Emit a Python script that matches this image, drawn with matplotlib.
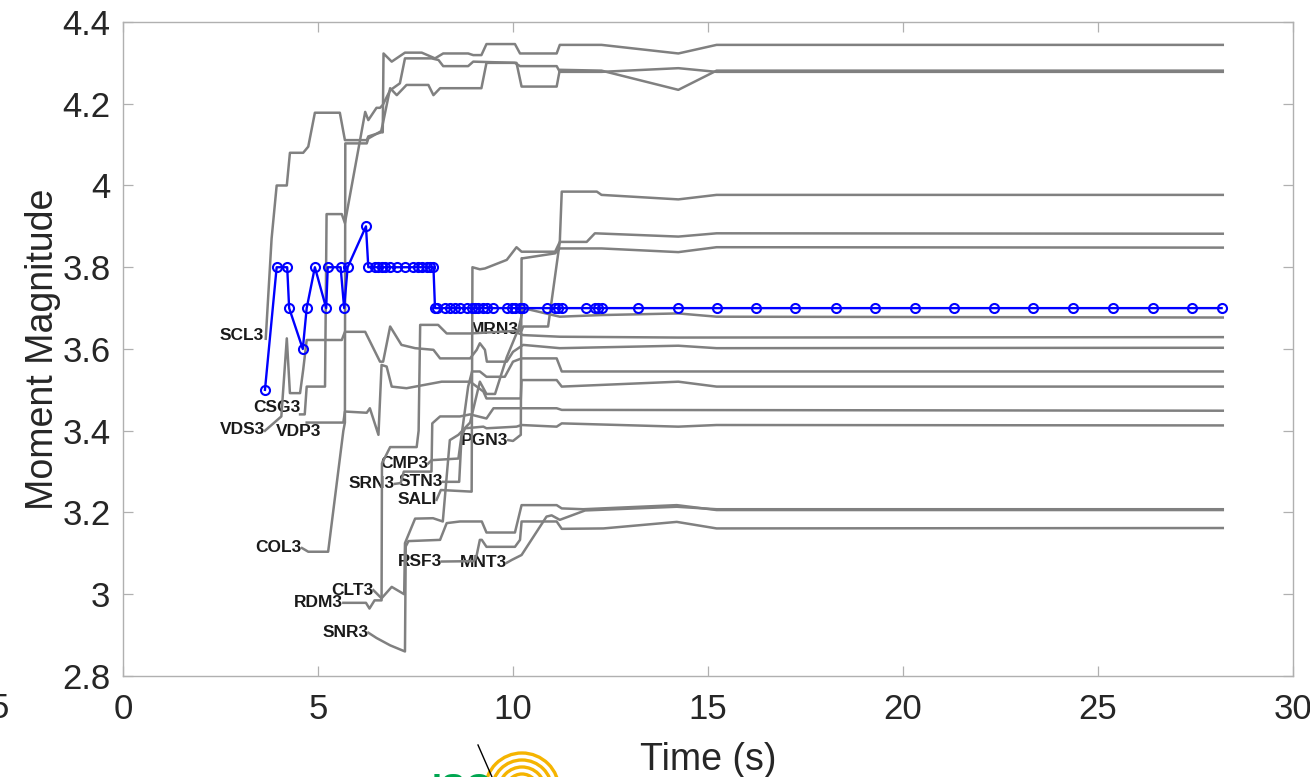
import matplotlib
matplotlib.use("Agg")
import matplotlib.pyplot as plt
from matplotlib.patches import Arc

plt.rcParams['font.family'] = ['Liberation Sans', 'DejaVu Sans']

# station estimates: (time s, magnitude) vertices per station
stations = ['SCL3', 'CSG3', 'COL3', 'MRN3', 'RDM3', 'SALI', 'PGN3', 'VDS3',
            'VDP3', 'CMP3', 'SRN3', 'STN3', 'CLT3', 'SNR3', 'MNT3', 'RSF3']

t_scl3 = [3.66, 3.81, 3.94, 4.20, 4.28, 4.62, 4.75, 4.92, 5.56, 5.69, 6.25, 6.29, 6.62, 6.66,
          6.68, 6.89, 7.23, 7.66, 8.00, 8.21, 8.85, 8.98, 9.19, 9.32, 10.05, 10.18, 11.12,
          11.20, 12.27, 14.24, 15.22, 28.2]
m_scl3 = [3.625, 3.87, 4.00, 4.00, 4.08, 4.08, 4.095, 4.178, 4.178, 4.111, 4.111, 4.12, 4.13,
          4.13, 4.323, 4.303, 4.325, 4.325, 4.311, 4.323, 4.323, 4.319, 4.319, 4.346, 4.346,
          4.323, 4.323, 4.344, 4.344, 4.323, 4.344, 4.344]

t_csg3 = [4.54, 4.66, 4.71, 5.18, 5.22, 5.61, 5.69, 6.21, 6.29, 6.50, 6.59, 6.66, 6.85, 7.10,
          7.23, 7.91, 8.09, 8.21, 8.85, 8.98, 10.09, 10.22, 11.12, 11.20, 12.27, 14.24, 15.22,
          28.2]
m_csg3 = [3.44, 3.44, 3.508, 3.508, 3.93, 3.93, 3.908, 4.18, 4.16, 4.19, 4.19, 4.197, 4.233,
          4.25, 4.311, 4.311, 4.307, 4.292, 4.292, 4.303, 4.300, 4.242, 4.242, 4.283, 4.281,
          4.234, 4.281, 4.281]

t_col3 = [4.59, 4.75, 5.26, 5.65, 5.69, 5.70, 6.25, 6.29, 6.62, 6.66, 6.85, 7.02, 7.27, 7.83,
          7.96, 8.13, 9.19, 9.32, 10.05, 10.18, 11.12, 11.20, 12.27, 14.24, 15.22, 28.2]
m_col3 = [3.113, 3.104, 3.104, 3.40, 3.42, 4.103, 4.103, 4.115, 4.133, 4.15, 4.238, 4.221,
          4.246, 4.246, 4.221, 4.238, 4.238, 4.300, 4.300, 4.292, 4.292, 4.278, 4.278, 4.287,
          4.278, 4.278]

t_mrn3 = [10.14, 10.26, 11.20, 12.27, 14.24, 15.22, 28.2]
m_mrn3 = [3.647, 3.70, 3.679, 3.683, 3.687, 3.679, 3.677]

t_rdm3 = [5.65, 6.23, 6.32, 6.45, 6.63, 6.64, 6.85, 7.53, 7.58, 7.62, 8.08, 8.30, 8.90, 10.22,
          10.26, 10.90, 11.20, 11.25, 12.15, 12.27, 14.24, 15.22, 28.2]
m_rdm3 = [2.979, 2.979, 2.965, 2.985, 2.985, 3.32, 3.36, 3.36, 3.40, 3.659, 3.659, 3.638, 3.638,
          3.645, 3.655, 3.655, 3.862, 3.985, 3.985, 3.977, 3.966, 3.977, 3.977]

t_sali = [8.04, 8.15, 8.94, 8.96, 9.15, 9.28, 9.84, 9.97, 10.09, 10.22, 11.08, 11.20, 11.89,
          12.10, 14.24, 15.22, 28.2]
m_sali = [3.231, 3.255, 3.251, 3.80, 3.795, 3.797, 3.818, 3.834, 3.849, 3.838, 3.838, 3.862,
          3.862, 3.883, 3.875, 3.883, 3.882]

t_pgn3 = [9.88, 10.00, 10.20, 10.22, 10.26, 11.08, 11.20, 12.27, 14.24, 15.22, 28.2]
m_pgn3 = [3.377, 3.375, 3.39, 3.822, 3.822, 3.834, 3.846, 3.846, 3.837, 3.849, 3.848]

t_vds3 = [3.64, 4.06, 4.20, 4.28, 4.54, 4.62, 4.71, 5.61, 5.69, 6.21, 6.59, 6.67, 6.85, 7.14,
          7.49, 7.96, 8.13, 8.64, 8.90, 9.07, 9.15, 9.28, 9.33, 9.84, 10.00, 10.26, 11.20,
          14.24, 15.22, 28.2]
m_vds3 = [3.40, 3.435, 3.626, 3.492, 3.492, 3.549, 3.622, 3.622, 3.642, 3.642, 3.569, 3.569,
          3.655, 3.610, 3.602, 3.598, 3.577, 3.577, 3.577, 3.598, 3.614, 3.598, 3.569, 3.569,
          3.593, 3.610, 3.602, 3.608, 3.602, 3.603]

t_vdp3 = [4.71, 5.65, 5.69, 6.25, 6.33, 6.55, 6.63, 6.76, 6.89, 7.27, 8.17, 8.90, 9.24, 9.32,
          10.20, 10.22, 11.12, 11.25, 14.24, 15.22, 28.2]
m_vdp3 = [3.42, 3.42, 3.447, 3.444, 3.455, 3.39, 3.561, 3.557, 3.508, 3.504, 3.52, 3.52, 3.496,
          3.479, 3.479, 3.524, 3.524, 3.508, 3.52, 3.508, 3.508]

t_cmp3 = [7.83, 7.91, 8.60, 8.85, 8.95, 9.15, 9.32, 9.79, 10.00, 10.22, 11.12, 11.25, 14.24, 28.2]
m_cmp3 = [3.320, 3.328, 3.332, 3.508, 3.545, 3.545, 3.532, 3.532, 3.569, 3.577, 3.577, 3.545,
          3.545, 3.545]

t_srn3 = [6.97, 7.12, 7.20, 7.91, 7.93, 8.13, 8.64, 8.90, 9.15, 9.32, 9.50, 11.12, 11.25, 28.2]
m_srn3 = [3.270, 3.272, 3.30, 3.30, 3.418, 3.435, 3.435, 3.44, 3.434, 3.430, 3.455, 3.455,
          3.451, 3.449]

t_stn3 = [8.21, 8.62, 8.68, 8.77, 9.24, 9.32, 10.09, 10.22, 11.12, 11.25, 14.24, 15.22, 28.2]
m_stn3 = [3.275, 3.275, 3.385, 3.406, 3.41, 3.406, 3.41, 3.414, 3.410, 3.418, 3.410, 3.414, 3.413]

t_clt3 = [6.42, 6.63, 6.89, 7.21, 7.23, 7.49, 7.95, 8.20, 8.38, 8.60, 8.90, 9.15, 9.32, 9.54,
          9.84, 10.10, 10.26, 11.20, 14.24, 28.2]
m_clt3 = [3.01, 2.99, 3.018, 3.0, 3.125, 3.185, 3.186, 3.178, 3.377, 3.39, 3.42, 3.52, 3.49,
          3.49, 3.58, 3.64, 3.634, 3.630, 3.628, 3.629]

t_snr3 = [6.29, 6.50, 6.85, 7.23, 7.25, 7.32, 8.13, 8.30, 8.64, 9.20, 9.32, 10.05, 10.22, 11.12,
          11.25, 11.80, 14.20, 15.22, 28.2]
m_snr3 = [2.906, 2.893, 2.875, 2.86, 3.117, 3.13, 3.133, 3.174, 3.178, 3.178, 3.151, 3.151,
          3.218, 3.218, 3.210, 3.208, 3.218, 3.206, 3.206]

t_mnt3 = [9.84, 9.97, 10.22, 10.86, 10.99, 11.20, 11.85, 14.20, 15.22, 28.2]
m_mnt3 = [3.077, 3.084, 3.096, 3.190, 3.193, 3.182, 3.205, 3.214, 3.208, 3.208]

t_rsf3 = [8.17, 9.00, 9.07, 9.15, 9.20, 9.32, 10.05, 10.18, 10.22, 11.12, 11.25, 12.32, 14.20,
          15.22, 28.2]
m_rsf3 = [3.080, 3.081, 3.096, 3.133, 3.133, 3.116, 3.116, 3.133, 3.178, 3.178, 3.160, 3.161,
          3.177, 3.161, 3.162]

station_t = [t_scl3, t_csg3, t_col3, t_mrn3, t_rdm3, t_sali, t_pgn3, t_vds3,
             t_vdp3, t_cmp3, t_srn3, t_stn3, t_clt3, t_snr3, t_mnt3, t_rsf3]
station_m = [m_scl3, m_csg3, m_col3, m_mrn3, m_rdm3, m_sali, m_pgn3, m_vds3,
             m_vdp3, m_cmp3, m_srn3, m_stn3, m_clt3, m_snr3, m_mnt3, m_rsf3]

# where each station name is written (right edge of the text)
label_t = [3.60, 4.54, 4.58, 10.14, 5.65, 8.04, 9.88, 3.64,
           5.09, 7.83, 6.97, 8.21, 6.42, 6.29, 9.84, 8.17]
label_m = [3.634, 3.457, 3.115, 3.648, 2.979, 3.231, 3.377, 3.402,
           3.397, 3.320, 3.270, 3.275, 3.010, 2.906, 3.077, 3.080]

# network estimate
t_net = [3.64, 3.94, 4.21, 4.26, 4.61, 4.71, 4.92, 5.21, 5.25, 5.58, 5.67, 5.76, 6.23,
         6.29, 6.46, 6.55, 6.63, 6.72, 6.85, 7.02, 7.23, 7.44, 7.57, 7.66, 7.79, 7.87, 7.96,
         8.00, 8.04, 8.26, 8.38, 8.51, 8.64, 8.81, 8.94, 9.03, 9.11, 9.24, 9.33, 9.49, 9.84,
         9.97, 10.05, 10.18, 10.26, 10.86, 11.08, 11.16, 11.25, 11.87, 12.10, 12.19, 12.27,
         13.21, 14.24, 15.22, 16.23, 17.23, 18.28, 19.28, 20.30, 21.30, 22.33, 23.33, 24.36,
         25.38, 26.40, 27.40, 28.17]
m_net = ([3.5, 3.8, 3.8, 3.7, 3.6, 3.7, 3.8, 3.7, 3.8, 3.8, 3.7, 3.8, 3.9]
         + [3.8] * 14 + [3.7] * 42)

fig = plt.figure(figsize=(13.1, 7.77), dpi=100)
ax = fig.add_axes([0.0939, 0.130, 0.8931, 0.8417])

for name, ts, ms, lt, lm in zip(stations, station_t, station_m, label_t, label_m):
    ax.plot(ts, ms, color='#808080', lw=1.8, zorder=2)
    ax.text(lt, lm, name, ha='right', va='center', fontsize=12.5, fontweight='bold',
            color='#1a1a1a', zorder=1)

ax.plot(t_net, m_net, color='#0000ff', lw=1.7, marker='o', markersize=6.5,
        markerfacecolor='none', markeredgecolor='#0000ff', markeredgewidth=1.5, zorder=3)

ax.set_xlim(0, 30)
ax.set_ylim(2.8, 4.4)
ax.set_xticks([0, 5, 10, 15, 20, 25, 30])
ax.set_yticks([2.8, 3.0, 3.2, 3.4, 3.6, 3.8, 4.0, 4.2, 4.4])
ax.set_yticklabels(['2.8', '3', '3.2', '3.4', '3.6', '3.8', '4', '4.2', '4.4'])
ax.tick_params(direction='in', length=7.5, width=0.9, top=True, right=True,
               color='#b0b0b0', labelcolor='#262626', labelsize=25, pad=9)
ax.tick_params(axis='x', pad=12)
for sp in ax.spines.values():
    sp.set_color('#b0b0b0')
    sp.set_linewidth(1.0)
ax.set_xlabel('Time (s)', fontsize=27, color='#262626', labelpad=12)
ax.set_ylabel('Moment Magnitude', fontsize=27, color='#262626', labelpad=1)

# bits of the neighbouring panel and logo at the page edge
over = fig.add_axes([0, 0, 1, 1], facecolor='none')
over.set_xlim(0, 1310)
over.set_ylim(777, 0)
over.axis('off')
over.text(-1, 708, '5', ha='center', va='center', fontsize=25, color='#262626')
for r in [9, 16, 23, 30, 37]:
    over.add_patch(Arc((522, 790), 2 * r, 2 * r, theta1=180, theta2=360,
                       color='#f5b400', lw=2.4))
over.text(462, 790, 'ISC', ha='center', va='center', fontsize=26, fontweight='bold',
          color='#00a650')
over.plot([478, 492], [745, 777], color='black', lw=1.0)

fig.savefig('out.png', dpi=100)
